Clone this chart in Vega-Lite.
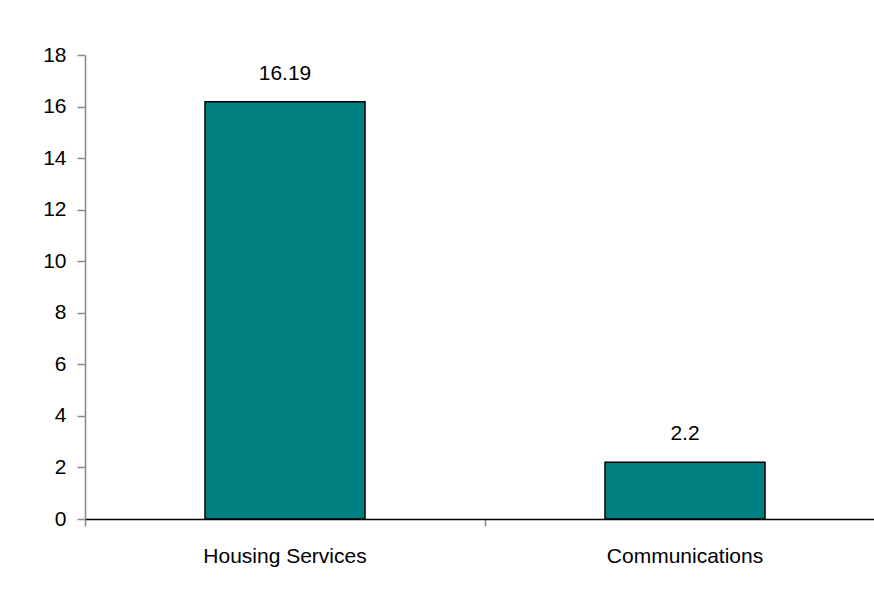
{
  "$schema": "https://vega.github.io/schema/vega-lite/v6.json",
  "width": 800,
  "height": 464,
  "autosize": {"type": "none"},
  "padding": {"left": 85, "top": 55, "right": 0, "bottom": 71},
  "background": "white",
  "config": {"view": {"stroke": null}, "font": "Liberation Sans"},
  "data": {"values": [
    {"category": "Housing Services", "value": 16.19},
    {"category": "Communications", "value": 2.2}
  ]},
  "encoding": {
    "x": {
      "field": "category", "type": "nominal", "sort": null,
      "scale": {"paddingInner": 0.6, "paddingOuter": 0.3},
      "axis": {
        "title": null, "labelAngle": 0, "labelFontSize": 21, "labelColor": "black",
        "labelPadding": 19, "domainColor": "black", "domainWidth": 1.5,
        "bandPosition": -0.75, "tickColor": "#888888", "tickSize": 7, "tickWidth": 1.5
      }
    },
    "y": {
      "field": "value", "type": "quantitative",
      "scale": {"domain": [0, 18], "nice": false},
      "axis": {
        "title": null, "values": [0, 2, 4, 6, 8, 10, 12, 14, 16, 18], "grid": false,
        "labelFontSize": 21, "labelColor": "black", "labelPadding": 11,
        "domainColor": "#888888", "domainWidth": 1.5, "tickColor": "#888888",
        "tickSize": 8, "tickWidth": 1.5
      }
    }
  },
  "layer": [
    {"mark": {"type": "bar", "fill": "#008080", "stroke": "black", "strokeWidth": 1.5}},
    {"mark": {"type": "text", "baseline": "alphabetic", "dy": -22, "fontSize": 21, "color": "black"},
     "encoding": {"text": {"field": "value", "type": "quantitative"}}}
  ]
}
